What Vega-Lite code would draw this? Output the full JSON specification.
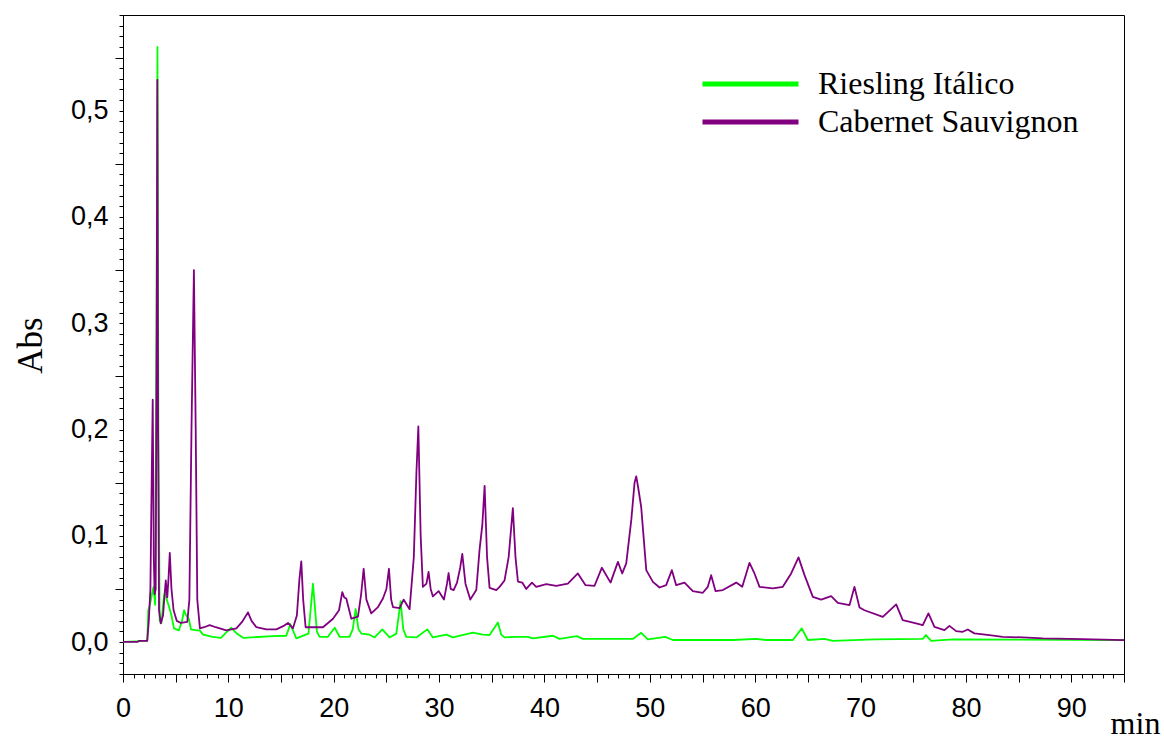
{
  "$schema": "https://vega.github.io/schema/vega-lite/v6.json",
  "width": 1001,
  "height": 659,
  "autosize": {"type": "none"},
  "padding": {"left": 123, "top": 15, "right": 40, "bottom": 66},
  "background": "white",
  "config": {
    "view": {"stroke": "black", "strokeWidth": 1},
    "axis": {"grid": false, "domainColor": "black", "tickColor": "black", "labelColor": "black", "titleColor": "black", "domainWidth": 1, "tickWidth": 1}
  },
  "data": {
    "values": [
      {"s": "Riesling Itálico", "t": 0, "v": 0.0003},
      {"s": "Riesling Itálico", "t": 2.3, "v": 0.0012},
      {"s": "Riesling Itálico", "t": 2.4, "v": 0.03},
      {"s": "Riesling Itálico", "t": 2.55, "v": 0.035},
      {"s": "Riesling Itálico", "t": 2.75, "v": 0.045},
      {"s": "Riesling Itálico", "t": 2.9, "v": 0.052},
      {"s": "Riesling Itálico", "t": 3.05, "v": 0.035},
      {"s": "Riesling Itálico", "t": 3.18, "v": 0.3},
      {"s": "Riesling Itálico", "t": 3.27, "v": 0.56},
      {"s": "Riesling Itálico", "t": 3.36, "v": 0.2},
      {"s": "Riesling Itálico", "t": 3.48, "v": 0.02},
      {"s": "Riesling Itálico", "t": 3.65, "v": 0.018},
      {"s": "Riesling Itálico", "t": 3.85, "v": 0.04},
      {"s": "Riesling Itálico", "t": 4.0, "v": 0.048},
      {"s": "Riesling Itálico", "t": 4.15, "v": 0.04},
      {"s": "Riesling Itálico", "t": 4.35, "v": 0.034},
      {"s": "Riesling Itálico", "t": 4.6, "v": 0.025},
      {"s": "Riesling Itálico", "t": 4.84, "v": 0.0129},
      {"s": "Riesling Itálico", "t": 5.3, "v": 0.011},
      {"s": "Riesling Itálico", "t": 5.6, "v": 0.02},
      {"s": "Riesling Itálico", "t": 5.8, "v": 0.03},
      {"s": "Riesling Itálico", "t": 6.0, "v": 0.025},
      {"s": "Riesling Itálico", "t": 6.25, "v": 0.022},
      {"s": "Riesling Itálico", "t": 6.45, "v": 0.012},
      {"s": "Riesling Itálico", "t": 7.0, "v": 0.011},
      {"s": "Riesling Itálico", "t": 7.28, "v": 0.011},
      {"s": "Riesling Itálico", "t": 7.6, "v": 0.007},
      {"s": "Riesling Itálico", "t": 8.5, "v": 0.005},
      {"s": "Riesling Itálico", "t": 9.3, "v": 0.004},
      {"s": "Riesling Itálico", "t": 9.9, "v": 0.01},
      {"s": "Riesling Itálico", "t": 10.28, "v": 0.0135},
      {"s": "Riesling Itálico", "t": 10.8, "v": 0.008},
      {"s": "Riesling Itálico", "t": 11.4, "v": 0.004},
      {"s": "Riesling Itálico", "t": 14.2, "v": 0.0056},
      {"s": "Riesling Itálico", "t": 15.5, "v": 0.006},
      {"s": "Riesling Itálico", "t": 15.88, "v": 0.017},
      {"s": "Riesling Itálico", "t": 16.45, "v": 0.0035},
      {"s": "Riesling Itálico", "t": 17.6, "v": 0.008},
      {"s": "Riesling Itálico", "t": 18.03, "v": 0.055},
      {"s": "Riesling Itálico", "t": 18.4, "v": 0.01},
      {"s": "Riesling Itálico", "t": 18.66, "v": 0.005},
      {"s": "Riesling Itálico", "t": 19.45, "v": 0.005},
      {"s": "Riesling Itálico", "t": 20.09, "v": 0.0135},
      {"s": "Riesling Itálico", "t": 20.56, "v": 0.005},
      {"s": "Riesling Itálico", "t": 21.5, "v": 0.005},
      {"s": "Riesling Itálico", "t": 21.8, "v": 0.012},
      {"s": "Riesling Itálico", "t": 22.08, "v": 0.031},
      {"s": "Riesling Itálico", "t": 22.35, "v": 0.012},
      {"s": "Riesling Itálico", "t": 22.62, "v": 0.008},
      {"s": "Riesling Itálico", "t": 23.4, "v": 0.007},
      {"s": "Riesling Itálico", "t": 23.88, "v": 0.0044},
      {"s": "Riesling Itálico", "t": 24.61, "v": 0.012},
      {"s": "Riesling Itálico", "t": 25.3, "v": 0.0044},
      {"s": "Riesling Itálico", "t": 25.94, "v": 0.008},
      {"s": "Riesling Itálico", "t": 26.35, "v": 0.0386},
      {"s": "Riesling Itálico", "t": 26.6, "v": 0.012},
      {"s": "Riesling Itálico", "t": 26.89, "v": 0.005},
      {"s": "Riesling Itálico", "t": 27.84, "v": 0.0044},
      {"s": "Riesling Itálico", "t": 28.88, "v": 0.012},
      {"s": "Riesling Itálico", "t": 29.41, "v": 0.0044},
      {"s": "Riesling Itálico", "t": 30.68, "v": 0.007},
      {"s": "Riesling Itálico", "t": 31.31, "v": 0.0044},
      {"s": "Riesling Itálico", "t": 33.2, "v": 0.009},
      {"s": "Riesling Itálico", "t": 34.16, "v": 0.007},
      {"s": "Riesling Itálico", "t": 34.79, "v": 0.0066},
      {"s": "Riesling Itálico", "t": 35.58, "v": 0.0185},
      {"s": "Riesling Itálico", "t": 35.9, "v": 0.007},
      {"s": "Riesling Itálico", "t": 36.21, "v": 0.0044},
      {"s": "Riesling Itálico", "t": 37.32, "v": 0.005},
      {"s": "Riesling Itálico", "t": 38.43, "v": 0.005},
      {"s": "Riesling Itálico", "t": 38.9, "v": 0.0035},
      {"s": "Riesling Itálico", "t": 40.8, "v": 0.006},
      {"s": "Riesling Itálico", "t": 41.43, "v": 0.003},
      {"s": "Riesling Itálico", "t": 43.08, "v": 0.0056},
      {"s": "Riesling Itálico", "t": 43.64, "v": 0.003},
      {"s": "Riesling Itálico", "t": 48.39, "v": 0.003},
      {"s": "Riesling Itálico", "t": 49.18, "v": 0.0088},
      {"s": "Riesling Itálico", "t": 49.81, "v": 0.0025},
      {"s": "Riesling Itálico", "t": 51.46, "v": 0.005},
      {"s": "Riesling Itálico", "t": 52.18, "v": 0.002},
      {"s": "Riesling Itálico", "t": 57.87, "v": 0.002},
      {"s": "Riesling Itálico", "t": 60.1, "v": 0.003},
      {"s": "Riesling Itálico", "t": 61.04, "v": 0.002},
      {"s": "Riesling Itálico", "t": 63.57, "v": 0.002},
      {"s": "Riesling Itálico", "t": 64.42, "v": 0.0129},
      {"s": "Riesling Itálico", "t": 64.99, "v": 0.002},
      {"s": "Riesling Itálico", "t": 66.57, "v": 0.003},
      {"s": "Riesling Itálico", "t": 67.36, "v": 0.0012},
      {"s": "Riesling Itálico", "t": 71.3, "v": 0.0025},
      {"s": "Riesling Itálico", "t": 75.9, "v": 0.003},
      {"s": "Riesling Itálico", "t": 76.2, "v": 0.0066},
      {"s": "Riesling Itálico", "t": 76.7, "v": 0.0012},
      {"s": "Riesling Itálico", "t": 78.77, "v": 0.0025},
      {"s": "Riesling Itálico", "t": 95.0, "v": 0.0019},
      {"s": "Cabernet Sauvignon", "t": 0, "v": 0.0003},
      {"s": "Cabernet Sauvignon", "t": 1.4, "v": 0.0003},
      {"s": "Cabernet Sauvignon", "t": 1.5, "v": 0.0012},
      {"s": "Cabernet Sauvignon", "t": 2.3, "v": 0.0012},
      {"s": "Cabernet Sauvignon", "t": 2.45, "v": 0.02},
      {"s": "Cabernet Sauvignon", "t": 2.6, "v": 0.05},
      {"s": "Cabernet Sauvignon", "t": 2.72, "v": 0.15},
      {"s": "Cabernet Sauvignon", "t": 2.82, "v": 0.228},
      {"s": "Cabernet Sauvignon", "t": 2.92, "v": 0.08},
      {"s": "Cabernet Sauvignon", "t": 3.0, "v": 0.045},
      {"s": "Cabernet Sauvignon", "t": 3.1, "v": 0.05},
      {"s": "Cabernet Sauvignon", "t": 3.2, "v": 0.3},
      {"s": "Cabernet Sauvignon", "t": 3.26, "v": 0.529},
      {"s": "Cabernet Sauvignon", "t": 3.33, "v": 0.2},
      {"s": "Cabernet Sauvignon", "t": 3.42, "v": 0.03},
      {"s": "Cabernet Sauvignon", "t": 3.58, "v": 0.0176},
      {"s": "Cabernet Sauvignon", "t": 3.8, "v": 0.025},
      {"s": "Cabernet Sauvignon", "t": 3.95, "v": 0.045},
      {"s": "Cabernet Sauvignon", "t": 4.06, "v": 0.058},
      {"s": "Cabernet Sauvignon", "t": 4.2, "v": 0.042},
      {"s": "Cabernet Sauvignon", "t": 4.32, "v": 0.06},
      {"s": "Cabernet Sauvignon", "t": 4.44, "v": 0.084},
      {"s": "Cabernet Sauvignon", "t": 4.6, "v": 0.05},
      {"s": "Cabernet Sauvignon", "t": 4.8, "v": 0.03},
      {"s": "Cabernet Sauvignon", "t": 5.1, "v": 0.02},
      {"s": "Cabernet Sauvignon", "t": 5.5, "v": 0.018},
      {"s": "Cabernet Sauvignon", "t": 6.1, "v": 0.019},
      {"s": "Cabernet Sauvignon", "t": 6.3, "v": 0.04},
      {"s": "Cabernet Sauvignon", "t": 6.5, "v": 0.2},
      {"s": "Cabernet Sauvignon", "t": 6.73, "v": 0.35},
      {"s": "Cabernet Sauvignon", "t": 6.9, "v": 0.2},
      {"s": "Cabernet Sauvignon", "t": 7.05, "v": 0.04},
      {"s": "Cabernet Sauvignon", "t": 7.3, "v": 0.013},
      {"s": "Cabernet Sauvignon", "t": 7.7, "v": 0.014},
      {"s": "Cabernet Sauvignon", "t": 8.23, "v": 0.016},
      {"s": "Cabernet Sauvignon", "t": 8.8, "v": 0.014},
      {"s": "Cabernet Sauvignon", "t": 9.81, "v": 0.011},
      {"s": "Cabernet Sauvignon", "t": 10.76, "v": 0.013},
      {"s": "Cabernet Sauvignon", "t": 11.3, "v": 0.019},
      {"s": "Cabernet Sauvignon", "t": 11.86, "v": 0.028},
      {"s": "Cabernet Sauvignon", "t": 12.2, "v": 0.02},
      {"s": "Cabernet Sauvignon", "t": 12.66, "v": 0.014},
      {"s": "Cabernet Sauvignon", "t": 13.6, "v": 0.012},
      {"s": "Cabernet Sauvignon", "t": 14.55, "v": 0.012},
      {"s": "Cabernet Sauvignon", "t": 15.2, "v": 0.015},
      {"s": "Cabernet Sauvignon", "t": 15.66, "v": 0.018},
      {"s": "Cabernet Sauvignon", "t": 16.13, "v": 0.013},
      {"s": "Cabernet Sauvignon", "t": 16.5, "v": 0.025},
      {"s": "Cabernet Sauvignon", "t": 16.75, "v": 0.06},
      {"s": "Cabernet Sauvignon", "t": 16.92, "v": 0.076},
      {"s": "Cabernet Sauvignon", "t": 17.1, "v": 0.04},
      {"s": "Cabernet Sauvignon", "t": 17.33, "v": 0.014},
      {"s": "Cabernet Sauvignon", "t": 18.98, "v": 0.014},
      {"s": "Cabernet Sauvignon", "t": 19.93, "v": 0.022},
      {"s": "Cabernet Sauvignon", "t": 20.5, "v": 0.03},
      {"s": "Cabernet Sauvignon", "t": 20.81, "v": 0.047},
      {"s": "Cabernet Sauvignon", "t": 21.0, "v": 0.042},
      {"s": "Cabernet Sauvignon", "t": 21.19, "v": 0.041},
      {"s": "Cabernet Sauvignon", "t": 21.67, "v": 0.022},
      {"s": "Cabernet Sauvignon", "t": 22.3, "v": 0.024},
      {"s": "Cabernet Sauvignon", "t": 22.6, "v": 0.045},
      {"s": "Cabernet Sauvignon", "t": 22.84, "v": 0.069},
      {"s": "Cabernet Sauvignon", "t": 23.1, "v": 0.04},
      {"s": "Cabernet Sauvignon", "t": 23.56, "v": 0.027},
      {"s": "Cabernet Sauvignon", "t": 24.2, "v": 0.033},
      {"s": "Cabernet Sauvignon", "t": 24.67, "v": 0.041},
      {"s": "Cabernet Sauvignon", "t": 25.0, "v": 0.05},
      {"s": "Cabernet Sauvignon", "t": 25.24, "v": 0.069},
      {"s": "Cabernet Sauvignon", "t": 25.45, "v": 0.04},
      {"s": "Cabernet Sauvignon", "t": 25.62, "v": 0.033},
      {"s": "Cabernet Sauvignon", "t": 26.25, "v": 0.032},
      {"s": "Cabernet Sauvignon", "t": 26.63, "v": 0.04},
      {"s": "Cabernet Sauvignon", "t": 27.2, "v": 0.031},
      {"s": "Cabernet Sauvignon", "t": 27.6, "v": 0.08},
      {"s": "Cabernet Sauvignon", "t": 27.85, "v": 0.16},
      {"s": "Cabernet Sauvignon", "t": 28.03, "v": 0.203},
      {"s": "Cabernet Sauvignon", "t": 28.25, "v": 0.1},
      {"s": "Cabernet Sauvignon", "t": 28.46, "v": 0.052},
      {"s": "Cabernet Sauvignon", "t": 28.8, "v": 0.055},
      {"s": "Cabernet Sauvignon", "t": 29.0, "v": 0.066},
      {"s": "Cabernet Sauvignon", "t": 29.2, "v": 0.05},
      {"s": "Cabernet Sauvignon", "t": 29.41, "v": 0.043},
      {"s": "Cabernet Sauvignon", "t": 29.95, "v": 0.048},
      {"s": "Cabernet Sauvignon", "t": 30.46, "v": 0.04},
      {"s": "Cabernet Sauvignon", "t": 30.75, "v": 0.055},
      {"s": "Cabernet Sauvignon", "t": 30.9, "v": 0.065},
      {"s": "Cabernet Sauvignon", "t": 31.1, "v": 0.05},
      {"s": "Cabernet Sauvignon", "t": 31.38, "v": 0.049},
      {"s": "Cabernet Sauvignon", "t": 31.7, "v": 0.056},
      {"s": "Cabernet Sauvignon", "t": 32.0, "v": 0.07},
      {"s": "Cabernet Sauvignon", "t": 32.2, "v": 0.083},
      {"s": "Cabernet Sauvignon", "t": 32.5, "v": 0.055},
      {"s": "Cabernet Sauvignon", "t": 32.96, "v": 0.04},
      {"s": "Cabernet Sauvignon", "t": 33.53, "v": 0.049},
      {"s": "Cabernet Sauvignon", "t": 33.84, "v": 0.087},
      {"s": "Cabernet Sauvignon", "t": 34.1, "v": 0.11},
      {"s": "Cabernet Sauvignon", "t": 34.32, "v": 0.147},
      {"s": "Cabernet Sauvignon", "t": 34.55, "v": 0.08},
      {"s": "Cabernet Sauvignon", "t": 34.79, "v": 0.051},
      {"s": "Cabernet Sauvignon", "t": 35.43, "v": 0.049},
      {"s": "Cabernet Sauvignon", "t": 35.74, "v": 0.052},
      {"s": "Cabernet Sauvignon", "t": 36.21, "v": 0.058},
      {"s": "Cabernet Sauvignon", "t": 36.6, "v": 0.08},
      {"s": "Cabernet Sauvignon", "t": 37.0, "v": 0.126},
      {"s": "Cabernet Sauvignon", "t": 37.25, "v": 0.08},
      {"s": "Cabernet Sauvignon", "t": 37.48, "v": 0.057},
      {"s": "Cabernet Sauvignon", "t": 37.89, "v": 0.056},
      {"s": "Cabernet Sauvignon", "t": 38.27, "v": 0.05},
      {"s": "Cabernet Sauvignon", "t": 38.81, "v": 0.056},
      {"s": "Cabernet Sauvignon", "t": 39.22, "v": 0.052},
      {"s": "Cabernet Sauvignon", "t": 40.17, "v": 0.0546},
      {"s": "Cabernet Sauvignon", "t": 41.12, "v": 0.053},
      {"s": "Cabernet Sauvignon", "t": 42.22, "v": 0.055},
      {"s": "Cabernet Sauvignon", "t": 43.17, "v": 0.0646},
      {"s": "Cabernet Sauvignon", "t": 43.9, "v": 0.0536},
      {"s": "Cabernet Sauvignon", "t": 44.75, "v": 0.053},
      {"s": "Cabernet Sauvignon", "t": 45.45, "v": 0.07},
      {"s": "Cabernet Sauvignon", "t": 46.27, "v": 0.056},
      {"s": "Cabernet Sauvignon", "t": 46.97, "v": 0.0755},
      {"s": "Cabernet Sauvignon", "t": 47.38, "v": 0.0646},
      {"s": "Cabernet Sauvignon", "t": 47.76, "v": 0.074},
      {"s": "Cabernet Sauvignon", "t": 48.24, "v": 0.115},
      {"s": "Cabernet Sauvignon", "t": 48.55, "v": 0.15},
      {"s": "Cabernet Sauvignon", "t": 48.71, "v": 0.156},
      {"s": "Cabernet Sauvignon", "t": 48.9, "v": 0.145},
      {"s": "Cabernet Sauvignon", "t": 49.18, "v": 0.127},
      {"s": "Cabernet Sauvignon", "t": 49.66, "v": 0.0677},
      {"s": "Cabernet Sauvignon", "t": 50.29, "v": 0.0567},
      {"s": "Cabernet Sauvignon", "t": 50.92, "v": 0.0514},
      {"s": "Cabernet Sauvignon", "t": 51.55, "v": 0.0536},
      {"s": "Cabernet Sauvignon", "t": 52.09, "v": 0.0677},
      {"s": "Cabernet Sauvignon", "t": 52.5, "v": 0.0536},
      {"s": "Cabernet Sauvignon", "t": 53.29, "v": 0.056},
      {"s": "Cabernet Sauvignon", "t": 54.08, "v": 0.048},
      {"s": "Cabernet Sauvignon", "t": 55.03, "v": 0.0464},
      {"s": "Cabernet Sauvignon", "t": 55.5, "v": 0.052},
      {"s": "Cabernet Sauvignon", "t": 55.82, "v": 0.063},
      {"s": "Cabernet Sauvignon", "t": 56.23, "v": 0.048},
      {"s": "Cabernet Sauvignon", "t": 56.93, "v": 0.049},
      {"s": "Cabernet Sauvignon", "t": 58.2, "v": 0.056},
      {"s": "Cabernet Sauvignon", "t": 58.77, "v": 0.052},
      {"s": "Cabernet Sauvignon", "t": 59.46, "v": 0.0746},
      {"s": "Cabernet Sauvignon", "t": 59.93, "v": 0.0646},
      {"s": "Cabernet Sauvignon", "t": 60.41, "v": 0.052},
      {"s": "Cabernet Sauvignon", "t": 61.67, "v": 0.0505},
      {"s": "Cabernet Sauvignon", "t": 62.62, "v": 0.052},
      {"s": "Cabernet Sauvignon", "t": 63.41, "v": 0.0646},
      {"s": "Cabernet Sauvignon", "t": 64.11, "v": 0.0797},
      {"s": "Cabernet Sauvignon", "t": 64.68, "v": 0.063},
      {"s": "Cabernet Sauvignon", "t": 65.47, "v": 0.0426},
      {"s": "Cabernet Sauvignon", "t": 66.26, "v": 0.04},
      {"s": "Cabernet Sauvignon", "t": 67.21, "v": 0.0433},
      {"s": "Cabernet Sauvignon", "t": 67.84, "v": 0.037},
      {"s": "Cabernet Sauvignon", "t": 68.95, "v": 0.0348},
      {"s": "Cabernet Sauvignon", "t": 69.42, "v": 0.052},
      {"s": "Cabernet Sauvignon", "t": 69.9, "v": 0.0326},
      {"s": "Cabernet Sauvignon", "t": 70.37, "v": 0.03},
      {"s": "Cabernet Sauvignon", "t": 72.11, "v": 0.0238},
      {"s": "Cabernet Sauvignon", "t": 73.38, "v": 0.0355},
      {"s": "Cabernet Sauvignon", "t": 74.0, "v": 0.0207},
      {"s": "Cabernet Sauvignon", "t": 75.27, "v": 0.0176},
      {"s": "Cabernet Sauvignon", "t": 75.9, "v": 0.016},
      {"s": "Cabernet Sauvignon", "t": 76.44, "v": 0.027},
      {"s": "Cabernet Sauvignon", "t": 77.01, "v": 0.0144},
      {"s": "Cabernet Sauvignon", "t": 77.96, "v": 0.0113},
      {"s": "Cabernet Sauvignon", "t": 78.43, "v": 0.0153},
      {"s": "Cabernet Sauvignon", "t": 79.07, "v": 0.0103},
      {"s": "Cabernet Sauvignon", "t": 79.7, "v": 0.0097},
      {"s": "Cabernet Sauvignon", "t": 80.17, "v": 0.0119},
      {"s": "Cabernet Sauvignon", "t": 80.8, "v": 0.0082},
      {"s": "Cabernet Sauvignon", "t": 82.23, "v": 0.0066},
      {"s": "Cabernet Sauvignon", "t": 83.49, "v": 0.005},
      {"s": "Cabernet Sauvignon", "t": 85.39, "v": 0.0044},
      {"s": "Cabernet Sauvignon", "t": 87.29, "v": 0.0035},
      {"s": "Cabernet Sauvignon", "t": 91.08, "v": 0.0028},
      {"s": "Cabernet Sauvignon", "t": 95.0, "v": 0.0019}
    ]
  },
  "encoding": {
    "x": {
      "field": "t", "type": "quantitative",
      "scale": {"domain": [0, 95], "nice": false, "zero": false},
      "axis": {
        "values": [0,1,2,3,4,5,6,7,8,9,10,11,12,13,14,15,16,17,18,19,20,21,22,23,24,25,26,27,28,29,30,31,32,33,34,35,36,37,38,39,40,41,42,43,44,45,46,47,48,49,50,51,52,53,54,55,56,57,58,59,60,61,62,63,64,65,66,67,68,69,70,71,72,73,74,75,76,77,78,79,80,81,82,83,84,85,86,87,88,89,90,91,92,93,94,95],
        "tickSize": {"condition": {"test": "round(datum.value) % 5 === 0", "value": 8}, "value": 4},
        "labelExpr": "round(datum.value) % 10 === 0 ? datum.label : ''",
        "labelFont": "Liberation Sans", "labelFontSize": 27,
        "labelPadding": 13, "labelFlush": false, "labelOverlap": false,
        "title": "min", "titleFont": "Liberation Serif", "titleFontSize": 32, "titleFontWeight": "normal",
        "titleX": 1012, "titleY": 59, "titleAlign": "center", "titleBaseline": "alphabetic"
      }
    },
    "y": {
      "field": "v", "type": "quantitative",
      "scale": {"domain": [-0.03, 0.59], "nice": false, "zero": false},
      "axis": {
        "values": [-0.03,-0.02,-0.01,0,0.01,0.02,0.03,0.04,0.05,0.06,0.07,0.08,0.09,0.1,0.11,0.12,0.13,0.14,0.15,0.16,0.17,0.18,0.19,0.2,0.21,0.22,0.23,0.24,0.25,0.26,0.27,0.28,0.29,0.3,0.31,0.32,0.33,0.34,0.35,0.36,0.37,0.38,0.39,0.4,0.41,0.42,0.43,0.44,0.45,0.46,0.47,0.48,0.49,0.5,0.51,0.52,0.53,0.54,0.55,0.56,0.57,0.58,0.59],
        "tickSize": {"condition": {"test": "abs(round(datum.value * 100)) % 10 === 5", "value": 8}, "value": 4},
        "labelExpr": "round(datum.value * 100) % 10 === 0 ? replace(format(datum.value, '.1f'), '.', ',') : ''",
        "labelFont": "Liberation Sans", "labelFontSize": 27,
        "labelPadding": 11, "labelOverlap": false, "labelFlush": false,
        "title": "Abs", "titleFont": "Liberation Serif", "titleFontSize": 35, "titleFontWeight": "normal",
        "titleX": -82, "titleY": 330, "titleAlign": "center", "titleBaseline": "alphabetic", "titleAngle": -90
      }
    },
    "color": {
      "field": "s", "type": "nominal",
      "scale": {"domain": ["Riesling Itálico", "Cabernet Sauvignon"], "range": ["#00ff00", "#800080"]},
      "legend": {
        "orient": "none", "legendX": 577, "legendY": 50, "title": null,
        "symbolType": "stroke", "symbolSize": 9216, "symbolStrokeWidth": 5,
        "labelFont": "Liberation Serif", "labelFontSize": 32, "labelColor": "black",
        "labelOffset": 17, "labelLimit": 500, "clipHeight": 38, "rowPadding": 0, "padding": 0
      }
    }
  },
  "layer": [
    {
      "transform": [{"filter": "datum.s === 'Riesling Itálico'"}],
      "mark": {"type": "line", "strokeWidth": 1.8, "interpolate": "linear", "strokeJoin": "round"}
    },
    {
      "transform": [{"filter": "datum.s === 'Cabernet Sauvignon'"}],
      "mark": {"type": "line", "strokeWidth": 1.8, "interpolate": "linear", "strokeJoin": "round"}
    }
  ]
}
